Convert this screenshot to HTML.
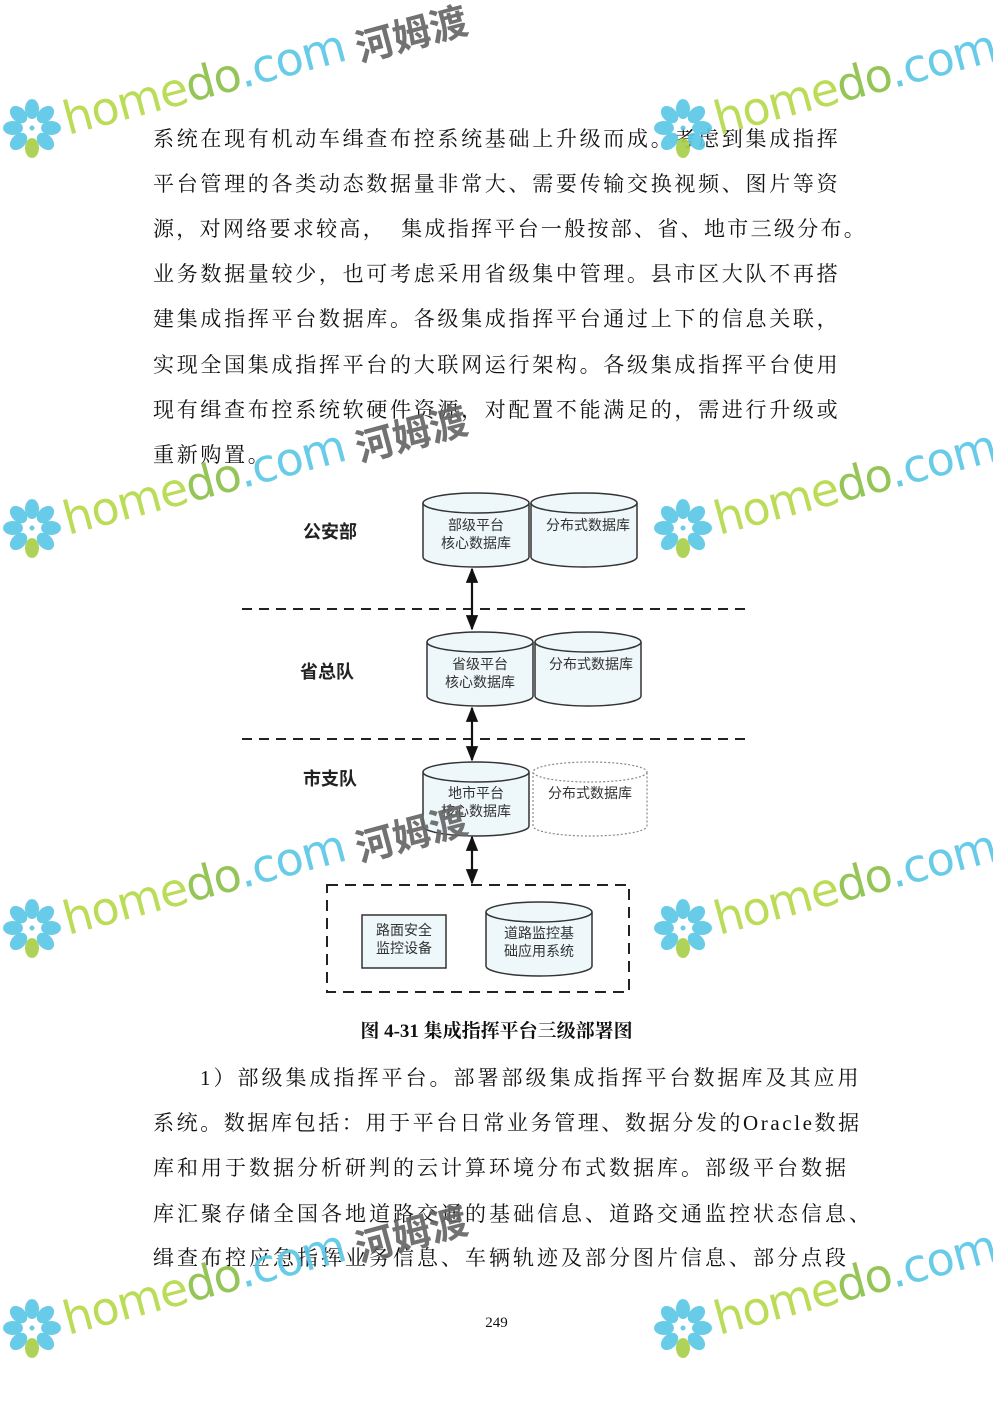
<!DOCTYPE html>
<html><head><meta charset="utf-8">
<style>
html,body{margin:0;padding:0;background:#fff;}
body{width:993px;height:1403px;position:relative;overflow:hidden;font-family:"Liberation Serif","Noto Serif CJK SC","Noto Sans CJK SC",serif;color:#111;}
.l{position:absolute;left:153px;font-size:21px;letter-spacing:2.7px;white-space:nowrap;line-height:24px;}
.b{letter-spacing:3.0px;}
.cap{position:absolute;left:0;width:993px;text-align:center;top:1016px;font-size:19px;font-weight:bold;}
.pn{position:absolute;left:0;width:993px;text-align:center;top:1315px;font-size:15px;}
svg{position:absolute;left:0;top:0;}
</style></head><body>
<div class="l" style="top:127px">系统在现有机动车缉查布控系统基础上升级而成。考虑到集成指挥</div>
<div class="l" style="top:172px">平台管理的各类动态数据量非常大、需要传输交换视频、图片等资</div>
<div class="l" style="top:217px;letter-spacing:2.3px">源，对网络要求较高，&nbsp;&nbsp;集成指挥平台一般按部、省、地市三级分布。</div>
<div class="l" style="top:262px">业务数据量较少，也可考虑采用省级集中管理。县市区大队不再搭</div>
<div class="l" style="top:307px">建集成指挥平台数据库。各级集成指挥平台通过上下的信息关联，</div>
<div class="l" style="top:353px">实现全国集成指挥平台的大联网运行架构。各级集成指挥平台使用</div>
<div class="l" style="top:398px">现有缉查布控系统软硬件资源，对配置不能满足的，需进行升级或</div>
<div class="l" style="top:443px">重新购置。</div>

<div class="l b" style="top:1066px;left:200px">1）部级集成指挥平台。部署部级集成指挥平台数据库及其应用</div>
<div class="l b" style="top:1111px;letter-spacing:2.6px">系统。数据库包括：用于平台日常业务管理、数据分发的Oracle数据</div>
<div class="l b" style="top:1156px">库和用于数据分析研判的云计算环境分布式数据库。部级平台数据</div>
<div class="l b" style="top:1202px">库汇聚存储全国各地道路交通的基础信息、道路交通监控状态信息、</div>
<div class="l b" style="top:1246px">缉查布控应急指挥业务信息、车辆轨迹及部分图片信息、部分点段</div>
<div class="cap">图 4-31 集成指挥平台三级部署图</div>
<div class="pn">249</div>

<svg width="993" height="1403" viewBox="0 0 993 1403" xmlns="http://www.w3.org/2000/svg" font-family="Liberation Sans, Noto Sans CJK SC, sans-serif">
<defs>
<marker id="a" viewBox="0 0 10 10" refX="9" refY="5" markerWidth="7" markerHeight="7" orient="auto-start-reverse"><path d="M0,1 L10,5 L0,9 z" fill="#111"/></marker>
<g id="cyl">
<path d="M0,10 L0,64 A53,10 0 0 0 106,64 L106,10" fill="#eef8fa" stroke="#333" stroke-width="1.5"/>
<ellipse cx="53" cy="10" rx="53" ry="10" fill="#eef8fa" stroke="#333" stroke-width="1.5"/>
</g>
</defs>
<g font-size="18" font-weight="bold" fill="#222">
<text x="303" y="538">公安部</text>
<text x="300" y="678">省总队</text>
<text x="303" y="785">市支队</text>
</g>
<line x1="242" y1="609" x2="748" y2="609" stroke="#222" stroke-width="2" stroke-dasharray="10,7"/>
<line x1="242" y1="739" x2="748" y2="739" stroke="#222" stroke-width="2" stroke-dasharray="10,7"/>
<use href="#cyl" x="423" y="493"/>
<use href="#cyl" x="531" y="493"/>
<use href="#cyl" x="427" y="632"/>
<use href="#cyl" x="535" y="632"/>
<use href="#cyl" x="423" y="762"/>
<g stroke="#888" stroke-width="1.2" stroke-dasharray="2,2" fill="#fff">
<path d="M533,772 L533,826 A57,10 0 0 0 647,826 L647,772"/>
<ellipse cx="590" cy="772" rx="57" ry="10"/>
</g>
<use href="#cyl" x="486" y="902"/>
<rect x="362" y="915" width="84" height="53" fill="#eef8fa" stroke="#333" stroke-width="1.5"/>
<g font-size="14" fill="#333" text-anchor="middle">
<text x="476" y="530">部级平台</text><text x="476" y="548">核心数据库</text>
<text x="588" y="530">分布式数据库</text>
<text x="480" y="669">省级平台</text><text x="480" y="687">核心数据库</text>
<text x="591" y="669">分布式数据库</text>
<text x="476" y="798">地市平台</text><text x="476" y="816">核心数据库</text>
<text x="590" y="798">分布式数据库</text>
<text x="539" y="938">道路监控基</text><text x="539" y="956">础应用系统</text>
<text x="404" y="935">路面安全</text><text x="404" y="953">监控设备</text>
</g>
<rect x="327" y="885" width="302" height="107" fill="none" stroke="#222" stroke-width="2" stroke-dasharray="11,7"/>
<g stroke="#111" stroke-width="2.2">
<line x1="472" y1="569" x2="472" y2="629" marker-start="url(#a)" marker-end="url(#a)"/>
<line x1="472" y1="708" x2="472" y2="760" marker-start="url(#a)" marker-end="url(#a)"/>
<line x1="472" y1="837" x2="472" y2="883" marker-start="url(#a)" marker-end="url(#a)"/>
</g>

<defs>
<g id="wm">
<g transform="translate(32,128)" fill="#5bc8e8">
<ellipse cx="0" cy="-19" rx="7" ry="10"/>
<ellipse cx="0" cy="-19" rx="7" ry="10" transform="rotate(45)"/>
<ellipse cx="0" cy="-19" rx="7" ry="10" transform="rotate(90)"/>
<ellipse cx="0" cy="-19" rx="7" ry="10" transform="rotate(135)"/>
<ellipse cx="0" cy="-19" rx="7" ry="10" transform="rotate(-45)"/>
<ellipse cx="0" cy="-19" rx="7" ry="10" transform="rotate(-90)"/>
<ellipse cx="0" cy="-19" rx="7" ry="10" transform="rotate(-135)"/>
<ellipse cx="0" cy="20" rx="7" ry="10" fill="#a8d04a"/>
<circle cx="0" cy="0" r="2.5" fill="#5bc8e8"/>
</g>
<g transform="translate(68,135) rotate(-15)" font-family="DejaVu Sans, sans-serif" font-size="46">
<text x="0" y="0" fill="#b5d94a" letter-spacing="-1">home<tspan fill="#8cc04a">do</tspan><tspan fill="#5bc8e8">.com</tspan></text>
</g>
<g transform="translate(360,62) rotate(-15)"><text x="0" y="0" font-size="38" font-weight="bold" fill="#666" font-family="Noto Sans CJK SC, sans-serif">河姆渡</text></g>
</g>
</defs>
<g opacity="0.92">
<use href="#wm" x="0" y="0"/>
<use href="#wm" x="651" y="0"/>
<use href="#wm" x="0" y="400"/>
<use href="#wm" x="651" y="400"/>
<use href="#wm" x="0" y="800"/>
<use href="#wm" x="651" y="800"/>
<use href="#wm" x="0" y="1200"/>
<use href="#wm" x="651" y="1200"/>
</g>
</svg>
</body></html>
